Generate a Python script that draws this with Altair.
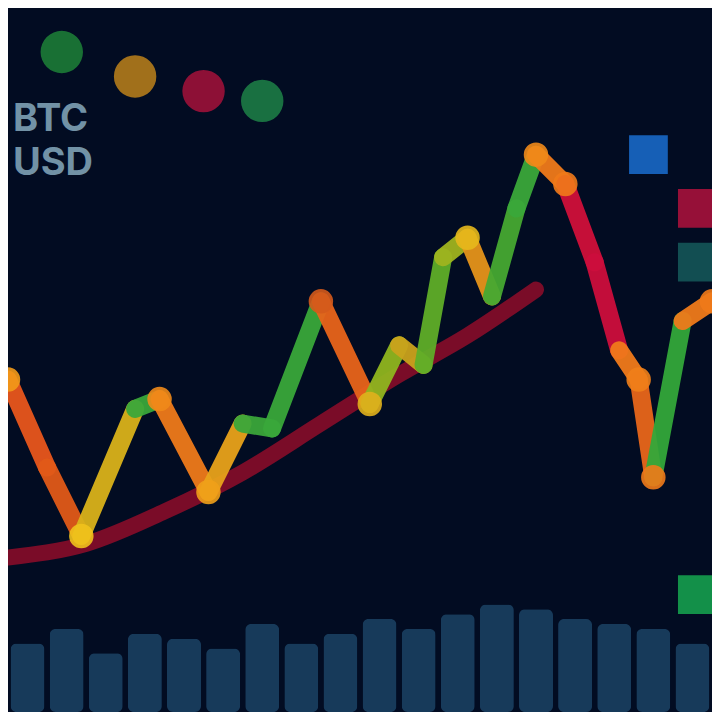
import altair as alt
import pandas as pd

# price zigzag (day, price)
days = [0, 4, 7.5, 13, 15.5, 20.5, 24, 27, 32, 37, 40, 42.5, 44.5, 47, 49.5, 52, 54, 57, 60, 62.5, 64.5, 66, 69, 72]
price = [340, 250, 180, 310, 320, 225, 295, 290, 420, 315, 375, 355, 465, 485, 425, 515, 570, 540, 460, 370, 340, 240, 400, 420]
seg_colors = ["#e8561c", "#e05a18", "#d9b21a", "#3aa63a", "#ee7a1a", "#e8a21a", "#3aa63a", "#39a83a",
              "#e8641a", "#8fb51f", "#c9a21c", "#5fae28", "#9fb31f", "#e5941a", "#46a932", "#3aa83a",
              "#ef7a1a", "#d0103a", "#cc0e3c", "#f07a1a", "#e8661a", "#33a83a", "#ee7a1a"]
turn_days = [0, 7.5, 15.5, 20.5, 32, 37, 47, 54, 57, 64.5, 66, 72]
turn_price = [340, 180, 320, 225, 420, 315, 485, 570, 540, 340, 240, 420]
turn_colors = ["#f29a1a", "#f0c21c", "#f08a1a", "#f0a01a", "#d45a1c", "#e0b01c", "#e5b81c", "#f08a1a", "#f07a1a", "#f07f1a", "#f07a1a", "#f07a1a"]

# moving average curve
ma_days = [0, 8, 16, 24, 32, 40, 47, 54]
ma_vals = [158, 172, 205, 245, 295, 345, 385, 432]

# volume bars
vol_days = [2, 6, 10, 14, 18, 22, 26, 30, 34, 38, 42, 46, 50, 54, 58, 62, 66, 70]
vol_vals = [70, 85, 60, 80, 75, 65, 90, 70, 80, 95, 85, 100, 110, 105, 95, 90, 85, 70]

# legend blobs top-left and right-hand labels
leg_x = [5.5, 13, 20, 26]
leg_y = [675, 650, 635, 625]
leg_c = ["#1f8a3a", "#c98a1a", "#b0123c", "#1f8a4a"]
lbl_x = [0.5, 0.5]
lbl_y = [605, 560]
lbl_t = ["BTC", "USD"]
rt_x = [65.5, 70.5, 70.5, 70.5]
rt_y = [570, 515, 460, 120]
rt_c = ["#1a6fd0", "#b0123c", "#155a5a", "#16a850"]

segs = pd.DataFrame({
    "d": days[:-1], "p": price[:-1], "d2": days[1:], "p2": price[1:], "c": seg_colors
})
turns = pd.DataFrame({"d": turn_days, "p": turn_price, "c": turn_colors})
ma = pd.DataFrame({"d": ma_days, "p": ma_vals})
vol = pd.DataFrame({"d": vol_days, "v": vol_vals})
leg = pd.DataFrame({"d": leg_x, "p": leg_y, "c": leg_c})
lbl = pd.DataFrame({"d": lbl_x, "p": lbl_y, "t": lbl_t})
rt = pd.DataFrame({"d": rt_x, "p": rt_y, "c": rt_c})

X = alt.Scale(domain=[0, 72], nice=False, zero=False, padding=0)
Y = alt.Scale(domain=[0, 720], nice=False, zero=False)
xe = alt.X("d:Q", scale=X, axis=None)
ye = alt.Y("p:Q", scale=Y, axis=None)

volb = alt.Chart(vol).mark_bar(width=34, color="#1f4a6e", opacity=0.75, cornerRadius=6).encode(
    x=xe, y=alt.Y("v:Q", scale=Y, axis=None))
maline = alt.Chart(ma).mark_line(color="#7a0c28", strokeWidth=16, interpolate="monotone", strokeCap="round").encode(x=xe, y=ye)
segl = alt.Chart(segs).mark_rule(strokeWidth=18, strokeCap="round", opacity=0.95).encode(
    x=xe, y=ye, x2="d2:Q", y2="p2:Q", color=alt.Color("c:N", scale=None))
tp = alt.Chart(turns).mark_circle(size=600, opacity=0.9).encode(x=xe, y=ye, color=alt.Color("c:N", scale=None))
legm = alt.Chart(leg).mark_circle(size=1800, opacity=0.8).encode(x=xe, y=ye, color=alt.Color("c:N", scale=None))
lblm = alt.Chart(lbl).mark_text(fontSize=38, font="Inter", fontWeight="bold", color="#8fb4c8", opacity=0.8,
                                align="left").encode(x=xe, y=ye, text="t:N")
rtm = alt.Chart(rt).mark_square(size=1500, opacity=0.85).encode(x=xe, y=ye, color=alt.Color("c:N", scale=None))

chart = alt.layer(volb, maline, segl, tp, legm, lblm, rtm).properties(
    width=704, height=704, background="#020c22",
    autosize=alt.AutoSizeParams(type="fit", contains="padding"), padding=0
).configure_view(stroke=None, fill="#020c22", clip=True)

chart.save("out.html", embed_options={"renderer": "svg", "actions": False})
